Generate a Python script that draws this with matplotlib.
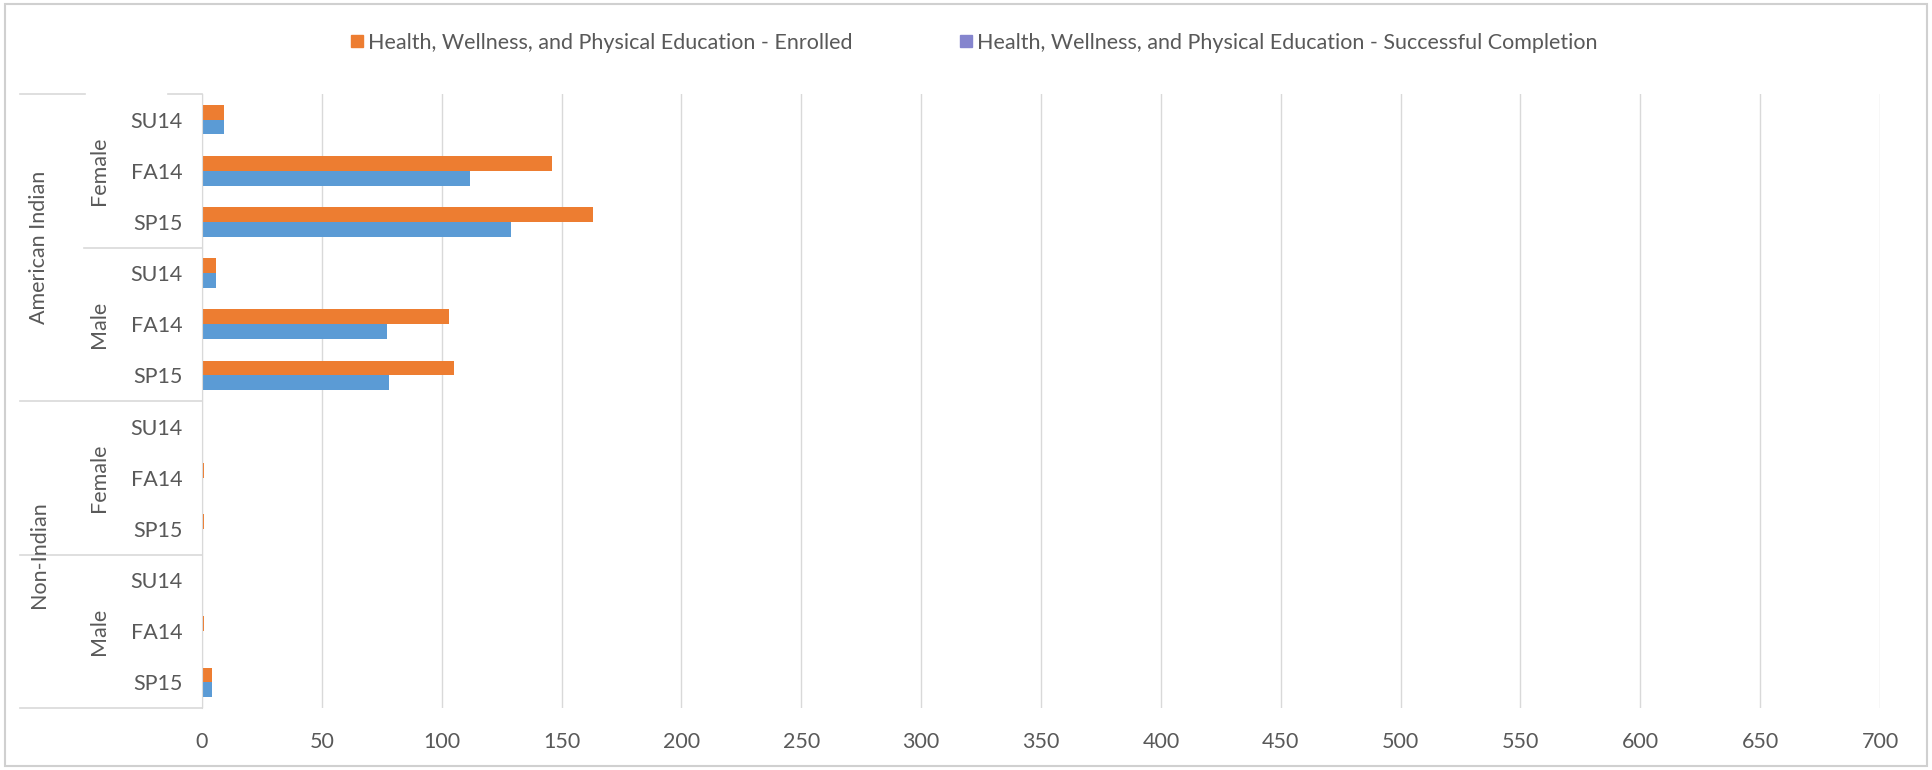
import matplotlib.pyplot as plt
import numpy as np
from matplotlib.patches import Rectangle
from matplotlib.lines import Line2D

plt.rcParams['font.family'] = ['Lato', 'DejaVu Sans']

terms = ['SU14', 'FA14', 'SP15'] * 4
genders = ['Female', 'Male', 'Female', 'Male']
groups = ['American Indian', 'Non-Indian']
enrolled = [9, 146, 163, 6, 103, 105, 0, 1, 1, 0, 1, 4]
completed = [9, 112, 129, 6, 77, 78, 0, 0, 0, 0, 0, 4]
xticks = list(range(0, 701, 50))

orange = '#ED7D31'
blue = '#5B9BD5'
legend_blue = '#8585CE'
txt = '#595959'
grid = '#D9D9D9'
fs = 15.5

fig = plt.figure(figsize=(19.33, 7.7), dpi=100)
ax = fig.add_axes([0.1045, 0.0805, 0.8681, 0.7974])

y = np.arange(len(terms))
h = 0.29
ax.barh(y - h / 2, enrolled, height=h, color=orange)
ax.barh(y + h / 2, completed, height=h, color=blue)

ax.set_xlim(0, 700)
ax.set_ylim(len(terms) - 0.5, -0.5)
ax.set_xticks(xticks)
ax.set_yticks(y)
ax.set_yticklabels(terms)
ax.tick_params(axis='y', length=0, pad=14, labelsize=fs, labelcolor=txt)
ax.tick_params(axis='x', length=0, pad=17, labelsize=fs, labelcolor=txt)
ax.grid(axis='x', color=grid, linewidth=1.0)
ax.set_axisbelow(True)
for s in ['top', 'right', 'bottom']:
    ax.spines[s].set_visible(False)
ax.spines['left'].set_color(grid)

# multi-level category labels
trans = ax.get_yaxis_transform()
x_out = (20 - 202) / 1679
x_mid = (84 - 202) / 1679
x_grp = (39 - 202) / 1679
x_gen = (99 - 202) / 1679
for seg in [(x_out, (85 - 202) / 1679), ((168 - 202) / 1679, 0)]:
    ax.plot(seg, [-0.5, -0.5], color=grid, lw=1.2, transform=trans, clip_on=False)
ax.plot([x_mid, 0], [2.5, 2.5], color=grid, lw=1.2, transform=trans, clip_on=False)
ax.plot([x_out, 0], [5.5, 5.5], color=grid, lw=1.2, transform=trans, clip_on=False)
ax.plot([x_out, 0], [8.5, 8.5], color=grid, lw=1.2, transform=trans, clip_on=False)
ax.plot([x_out, 0], [11.5, 11.5], color=grid, lw=1.2, transform=trans, clip_on=False)

for i, g in enumerate(genders):
    ax.text(x_gen, 3 * i + 1, g, rotation=90, ha='center', va='center',
            fontsize=fs, color=txt, transform=trans)
for i, g in enumerate(groups):
    ax.text(x_grp, 6 * i + 2.5, g, rotation=90, ha='center', va='center',
            fontsize=fs, color=txt, transform=trans)

handles = [Line2D([], [], marker='s', linestyle='none', markersize=8, color=orange),
           Line2D([], [], marker='s', linestyle='none', markersize=8, color=legend_blue)]
labels = ['Health, Wellness, and Physical Education - Enrolled',
          'Health, Wellness, and Physical Education - Successful Completion']
fig.legend(handles, labels, loc='center', bbox_to_anchor=(974 / 1933, 1 - 43 / 770),
           ncol=2, frameon=False, fontsize=fs, labelcolor=txt,
           handlelength=0.6, handletextpad=0.2, columnspacing=5)

fig.patches.append(Rectangle((5 / 1933, 4 / 770), 1922 / 1933, 762 / 770,
                             transform=fig.transFigure, fill=False,
                             edgecolor='#D0D0D0', lw=1.5))

fig.savefig('out.png', dpi=100)
